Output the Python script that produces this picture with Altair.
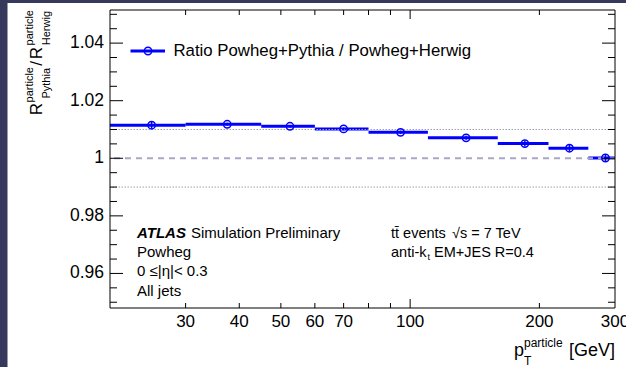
import altair as alt
import pandas as pd

# pT bins (GeV) and the Pythia/Herwig response ratio per bin
bin_lo = [20, 30, 45, 60, 80, 110, 160, 210, 260]
bin_hi = [30, 45, 60, 80, 110, 160, 210, 260, 310]
bin_center = [25, 37.5, 52.5, 70, 95, 135, 185, 235, 285]
ratio = [1.0115, 1.0118, 1.0111, 1.0102, 1.0090, 1.0071, 1.0051, 1.0035, 1.0001]
ratio_err = [0.0012, 0.0005, 0.0005, 0.0005, 0.0006, 0.0007, 0.0010, 0.0012, 0.0014]

# axis ticks and labels
x_label_values = [30, 40, 50, 60, 70, 100, 200, 300]
x_label_text = ["30", "40", "50", "60", "70", "100", "200", "300"]
x_short_ticks = [30, 40, 50, 60, 70, 80, 90, 200]
x_long_ticks = [100]
y_label_values = [0.96, 0.98, 1.0, 1.02, 1.04]
y_label_text = ["0.96", "0.98", "1", "1.02", "1.04"]
y_minor_ticks = [0.95, 0.955, 0.965, 0.97, 0.975, 0.985, 0.99, 0.995,
                 1.005, 1.01, 1.015, 1.025, 1.03, 1.035, 1.045, 1.05]
ref_dotted = [0.99, 1.01]
ref_dashed = [1.0]

W, H = 505, 298
FONT = "Liberation Sans"
BLUE = "#0000ff"
DARK = "#36385c"

xs = alt.Scale(type="log", domain=[20, 300], nice=False)
ys = alt.Scale(domain=[0.948, 1.0515], nice=False, zero=False)

df = pd.DataFrame({"lo": bin_lo, "hi": bin_hi, "center": bin_center,
                   "ratio": ratio, "err": ratio_err})
df["ymin"] = df["ratio"] - df["err"]
df["ymax"] = df["ratio"] + df["err"]

one = pd.DataFrame({"k": [0]})


def text(t, x, y, size, align="left", angle=0, weight="normal", style="normal"):
    kw = dict(font=FONT, fontSize=size, align=align, baseline="alphabetic",
              color="black", fontWeight=weight, fontStyle=style)
    if angle:
        kw["angle"] = angle
    return alt.Chart(pd.DataFrame({"t": [t]})).mark_text(**kw).encode(
        x=alt.value(x), y=alt.value(y), text="t:N")


# dark page strips around the white canvas
strip_left = alt.Chart(one).mark_rect(color=DARK).encode(
    x=alt.value(-110), x2=alt.value(-102.5), y=alt.value(-10), y2=alt.value(H + 59))
strip_top = alt.Chart(one).mark_rect(color=DARK).encode(
    x=alt.value(-110), x2=alt.value(W + 11), y=alt.value(-10), y2=alt.value(-7))

steps = alt.Chart(df).mark_rule(color=BLUE, strokeWidth=3, clip=True).encode(
    x=alt.X("lo:Q", scale=xs, axis=None), x2="hi:Q",
    y=alt.Y("ratio:Q", scale=ys, axis=None))

dotted = alt.Chart(pd.DataFrame({"v": ref_dotted})).mark_rule(
    color="#a0a0b4", strokeWidth=1, strokeDash=[1.5, 1.5]).encode(
    y=alt.Y("v:Q", scale=ys, axis=None))
dashed = alt.Chart(pd.DataFrame({"v": ref_dashed})).mark_rule(
    color="#a8a8c6", strokeWidth=2, strokeDash=[6, 5]).encode(
    y=alt.Y("v:Q", scale=ys, axis=None))

errs = alt.Chart(df).mark_rule(color=BLUE, strokeWidth=1.5).encode(
    x=alt.X("center:Q", scale=xs, axis=None),
    y=alt.Y("ymin:Q", scale=ys, axis=None), y2="ymax:Q")
points = alt.Chart(df).mark_point(shape="circle", filled=False, size=55,
                                  strokeWidth=1.5, color=BLUE, opacity=1).encode(
    x=alt.X("center:Q", scale=xs, axis=None),
    y=alt.Y("ratio:Q", scale=ys, axis=None))


def yticks(vals, length):
    d = pd.DataFrame({"v": vals})
    left = alt.Chart(d).mark_rule(color="black", strokeWidth=1).encode(
        y=alt.Y("v:Q", scale=ys, axis=None), x=alt.value(0), x2=alt.value(length))
    right = alt.Chart(d).mark_rule(color="black", strokeWidth=1).encode(
        y=alt.Y("v:Q", scale=ys, axis=None), x=alt.value(W - length), x2=alt.value(W))
    return [left, right]


def xticks(vals, length):
    d = pd.DataFrame({"v": vals})
    bottom = alt.Chart(d).mark_rule(color="black", strokeWidth=1).encode(
        x=alt.X("v:Q", scale=xs, axis=None), y=alt.value(H), y2=alt.value(H - length))
    top = alt.Chart(d).mark_rule(color="black", strokeWidth=1).encode(
        x=alt.X("v:Q", scale=xs, axis=None), y=alt.value(0), y2=alt.value(length))
    return [bottom, top]


# tick labels
x_labels = alt.Chart(pd.DataFrame({"v": x_label_values, "t": x_label_text})).mark_text(
    font=FONT, fontSize=17, align="center", baseline="alphabetic", color="black").encode(
    x=alt.X("v:Q", scale=xs, axis=None), y=alt.value(H + 19), text="t:N")
y_labels = alt.Chart(pd.DataFrame({"v": y_label_values, "t": y_label_text})).mark_text(
    font=FONT, fontSize=17.5, align="right", baseline="middle", color="black").encode(
    y=alt.Y("v:Q", scale=ys, axis=None), x=alt.value(-6), text="t:N")

frame = alt.Chart(one).mark_rect(fillOpacity=0, stroke="black", strokeWidth=1).encode(
    x=alt.value(0), x2=alt.value(W), y=alt.value(0), y2=alt.value(H))

# legend entry
leg_line = alt.Chart(one).mark_rule(color=BLUE, strokeWidth=3).encode(
    x=alt.value(20.5), x2=alt.value(55), y=alt.value(41))
leg_point = alt.Chart(one).mark_point(shape="circle", filled=False, size=55,
                                      strokeWidth=1.5, color=BLUE, opacity=1).encode(
    x=alt.value(38), y=alt.value(41))
leg_text = text("Ratio Powheg+Pythia / Powheg+Herwig", 63.5, 46, 16.8)

annotations = [
    text("ATLAS", 27, 228, 15, weight="bold", style="italic"),
    text("Simulation Preliminary", 81, 228, 15),
    text("Powheg", 27, 247, 15),
    text("0 ≤|η|< 0.3", 27, 266, 15),
    text("All jets", 27, 286, 15),
    text("tt\u0304 events", 281, 228, 14.5),
    text("√s = 7 TeV", 342, 228, 14.5),
    text("anti-k", 281, 247, 14.5),
    text("t", 317.5, 250, 9),
    text("EM+JES R=0.4", 324, 247, 14.5),
]

# axis titles with super/subscripts
y_title = [
    text("particle", -77, 0, 11, align="right", angle=270),
    text("Herwig", -60, 1, 11, align="right", angle=270),
    text("R", -68, 37, 17, align="right", angle=270),
    text("/", -68, 51, 17, align="right", angle=270),
    text("particle", -77, 57, 11, align="right", angle=270),
    text("Pythia", -60, 58, 11, align="right", angle=270),
    text("R", -68, 93, 17, align="right", angle=270),
]
x_title = [
    text("[GeV]", W, 346, 18, align="right"),
    text("p", 414, 346, 18, align="right"),
    text("particle", 414, 337, 12),
    text("T", 414, 355, 12),
]

layers = ([strip_left, strip_top, steps, dotted, dashed, errs, points]
          + yticks(y_label_values, 13) + yticks(y_minor_ticks, 7)
          + xticks(x_short_ticks, 5) + xticks(x_long_ticks, 9)
          + [frame, x_labels, y_labels, leg_line, leg_point, leg_text]
          + annotations + y_title + x_title)

chart = alt.layer(*layers).properties(
    width=W, height=H, background="white",
    padding={"left": 110, "top": 10, "right": 11, "bottom": 59},
    autosize=alt.AutoSizeParams(type="none"),
).configure_view(stroke=None)

chart.save("out.html", embed_options={"renderer": "svg", "actions": False})
